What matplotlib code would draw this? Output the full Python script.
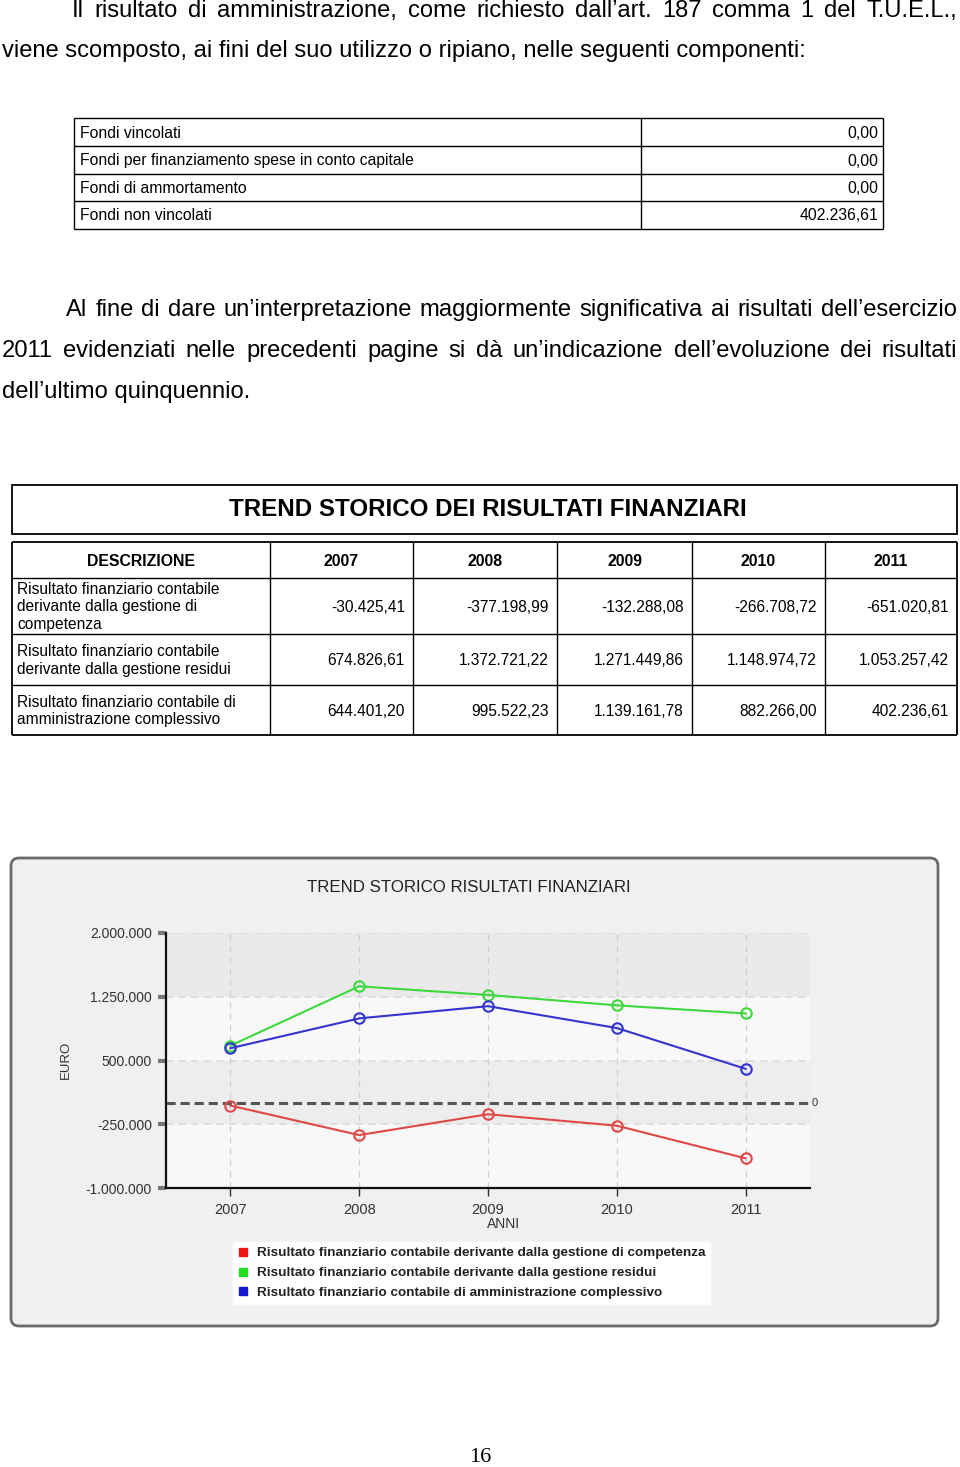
import matplotlib
matplotlib.use("Agg")
import matplotlib.pyplot as plt
from matplotlib.patches import FancyBboxPatch, Rectangle
from matplotlib.lines import Line2D
from matplotlib.ticker import FuncFormatter, FixedLocator

# ---------------- data ----------------
intro_line1 = "Il risultato di amministrazione, come richiesto dall’art. 187 comma 1 del T.U.E.L.,"
intro_line2 = "viene scomposto, ai fini del suo utilizzo o ripiano, nelle seguenti componenti:"
fondi_labels = ["Fondi vincolati", "Fondi per finanziamento spese in conto capitale",
                "Fondi di ammortamento", "Fondi non vincolati"]
fondi_values = [0.00, 0.00, 0.00, 402236.61]
para_lines = ["Al fine di dare un’interpretazione maggiormente significativa ai risultati dell’esercizio",
              "2011 evidenziati nelle precedenti pagine si dà un’indicazione dell’evoluzione dei risultati",
              "dell’ultimo quinquennio."]
table_title = "TREND STORICO DEI RISULTATI FINANZIARI"
header = ["DESCRIZIONE", "2007", "2008", "2009", "2010", "2011"]
years = [2007, 2008, 2009, 2010, 2011]
desc_rows = ["Risultato finanziario contabile\nderivante dalla gestione di\ncompetenza",
             "Risultato finanziario contabile\nderivante dalla gestione residui",
             "Risultato finanziario contabile di\namministrazione complessivo"]
competenza = [-30425.41, -377198.99, -132288.08, -266708.72, -651020.81]
residui = [674826.61, 1372721.22, 1271449.86, 1148974.72, 1053257.42]
complessivo = [644401.20, 995522.23, 1139161.78, 882266.00, 402236.61]
chart_title = "TREND STORICO RISULTATI FINANZIARI"
legend_labels = ["Risultato finanziario contabile derivante dalla gestione di competenza",
                 "Risultato finanziario contabile derivante dalla gestione residui",
                 "Risultato finanziario contabile di amministrazione complessivo"]
yticks = [-1000000, -250000, 500000, 1250000, 2000000]
page_number = "16"

# ---------------- helpers ----------------
W, H = 960, 1467
SANS = ["Liberation Sans", "DejaVu Sans"]
SERIF = ["Liberation Serif", "DejaVu Serif"]


def it_num(v, dec=2):
    s = f"{v:,.{dec}f}"
    return s.replace(",", "X").replace(".", ",").replace("X", ".")


fig = plt.figure(figsize=(W / 100, H / 100), dpi=100)
page = fig.add_axes([0, 0, 1, 1])
page.set_xlim(0, W)
page.set_ylim(H, 0)
page.axis("off")
renderer = fig.canvas.get_renderer()


def width_of(t):
    return t.get_window_extent(renderer).width


def fit_text(s, x0, x1, y, **kw):
    t = page.text(x0, y, s, fontsize=10, ha="left", va="center", **kw)
    fs = 10 * (x1 - x0) / width_of(t)
    t.set_fontsize(fs)
    return fs


def justify(s, x0, x1, y, fs, **kw):
    words = s.split(" ")
    ts = [page.text(0, y, w_, fontsize=fs, ha="left", va="center", **kw) for w_ in words]
    ws = [width_of(t) for t in ts]
    gap = (x1 - x0 - sum(ws)) / (len(words) - 1)
    x = x0
    for t, w_ in zip(ts, ws):
        t.set_x(x)
        x += w_ + gap


def hline(x0, x1, y, lw=1.0, color="black"):
    page.plot([x0, x1], [y, y], color=color, lw=lw, solid_capstyle="butt")


def vline(x, y0, y1, lw=1.0, color="black"):
    page.plot([x, x], [y0, y1], color=color, lw=lw, solid_capstyle="butt")


# ---------------- intro text ----------------
body_fs = fit_text(intro_line2, 2, 806, 51, family=SANS, color="black")
justify(intro_line1, 72, 957, 11, body_fs, family=SANS, color="black")

# ---------------- table 1 ----------------
t1_rows = [118, 146, 174, 201, 229]
t1_x0, t1_xm, t1_x1 = 74, 641, 883
for y in t1_rows:
    hline(t1_x0, t1_x1, y, lw=1.0)
vline(t1_x0, 118, 229)
vline(t1_xm, 118, 229)
vline(t1_x1, 118, 229)
for i, (lab, val) in enumerate(zip(fondi_labels, fondi_values)):
    yc = (t1_rows[i] + t1_rows[i + 1]) / 2 + 1
    page.text(80, yc, lab, fontsize=11.3, family=SANS, ha="left", va="center")
    page.text(878, yc, it_num(val), fontsize=11.3, family=SANS, ha="right", va="center")

# ---------------- paragraph ----------------
justify(para_lines[0], 66, 957, 310, body_fs, family=SANS)
justify(para_lines[1], 2, 957, 351, body_fs, family=SANS)
page.text(2, 392, para_lines[2], fontsize=body_fs, family=SANS, ha="left", va="center")

# ---------------- table 2 ----------------
page.add_patch(Rectangle((12, 485), 945, 49, fill=False, ec="black", lw=1.3))
fit_text(table_title, 229, 743, 510, family=SANS, fontweight="bold")

t2_rows = [542, 578, 634, 685, 735]
t2_cols = [12, 270, 413, 557, 692, 825, 957]
for i, y in enumerate(t2_rows):
    hline(12, 957, y, lw=1.3 if i in (0, len(t2_rows) - 1) else 1.0)
for i, x in enumerate(t2_cols):
    vline(x, 542, 735, lw=1.3 if i in (0, len(t2_cols) - 1) else 1.0)
for j, h in enumerate(header):
    xc = (t2_cols[j] + t2_cols[j + 1]) / 2
    page.text(xc, 561, h, fontsize=11.4, family=SANS, fontweight="bold", ha="center", va="center")
series_all = [competenza, residui, complessivo]
for i, (desc, vals) in enumerate(zip(desc_rows, series_all)):
    yc = (t2_rows[i + 1] + t2_rows[i + 2]) / 2 + 1
    page.text(17, yc, desc, fontsize=11.2, family=SANS, ha="left", va="center", linespacing=1.17)
    for j, v in enumerate(vals):
        page.text(t2_cols[j + 2] - 8, yc, it_num(v), fontsize=11.2, family=SANS,
                  ha="right", va="center")

# ---------------- chart panel ----------------
page.add_patch(FancyBboxPatch((11, 858), 927, 468,
                              boxstyle="round,pad=0,rounding_size=8",
                              fc="#f0f0f0", ec="#6a6a6a", lw=2.0))
fit_text(chart_title, 307, 632, 887, family=SANS, color="#222222")

ax_l, ax_r, ax_t, ax_b = 166, 810, 933, 1188
ax = fig.add_axes([ax_l / W, 1 - ax_b / H, (ax_r - ax_l) / W, (ax_b - ax_t) / H])
ax.set_facecolor("none")
ax.set_xlim(2006.5, 2011.5)
ax.set_ylim(-1000000, 2000000)

band_cols = ["#f8f8f8", "#ededed", "#f8f8f8", "#eaeaea"]
for (lo, hi), c in zip(zip(yticks[:-1], yticks[1:]), band_cols):
    ax.axhspan(lo, hi, color=c, lw=0, zorder=0)
for yv in yticks[1:]:
    ax.axhline(yv, color="#dcdcdc", lw=1.3, ls=(0, (4, 3)), zorder=1)
for xv in years:
    ax.axvline(xv, color="#cfcfcf", lw=0.9, ls=(0, (5, 4)), zorder=1)

ax.axhline(0, color="#555555", lw=2.2, ls=(0, (3, 1.6)), zorder=2)
ax.text(1.003, 0, "0", transform=ax.get_yaxis_transform(), fontsize=8,
        family=SANS, color="#333333", ha="left", va="center")

line_cols = ["#e04848", "#3cd83c", "#3434d0"]
for vals, c in zip(series_all, line_cols):
    ax.plot(years, vals, color=c, lw=1.5, marker="o", ms=7.5, mfc="none",
            mec=c, mew=1.5, zorder=4)

for s in ["top", "right"]:
    ax.spines[s].set_visible(False)
ax.spines["left"].set_color("#111111")
ax.spines["left"].set_linewidth(1.6)
ax.spines["bottom"].set_color("#111111")
ax.spines["bottom"].set_linewidth(1.6)

ax.yaxis.set_major_locator(FixedLocator(yticks))
ax.yaxis.set_major_formatter(FuncFormatter(lambda v, p: it_num(v, 0)))
ax.xaxis.set_major_locator(FixedLocator(years))
ax.xaxis.set_major_formatter(FuncFormatter(lambda v, p: f"{int(round(v))}"))
ax.tick_params(axis="y", length=6, width=3, color="#777777", pad=4,
               labelsize=10, labelcolor="#333333")
ax.tick_params(axis="x", length=6, width=1, color="#333333", pad=5,
               labelsize=10.5, labelcolor="#333333")
for lab in ax.get_xticklabels() + ax.get_yticklabels():
    lab.set_family(SANS)

page.text(66, 1060, "EURO", fontsize=9.5, family=SANS, rotation=90,
          ha="center", va="center", color="#333333")
page.text(504, 1224, "ANNI", fontsize=10, family=SANS, ha="center", va="center",
          color="#333333")

# legend
handles = [Line2D([], [], marker="s", ls="none", color=c, ms=5.5) for c in
           ["#ee1515", "#22dd22", "#1515cc"]]
leg = ax.legend(handles, legend_labels, loc="upper left",
                bbox_to_anchor=(232 / W, 1 - 1241 / H), bbox_transform=fig.transFigure,
                frameon=True, fancybox=True, facecolor="white", edgecolor="#f4f4f4",
                framealpha=1.0, handlelength=0.8, handletextpad=0.6,
                labelspacing=0.55, borderpad=0.45, borderaxespad=0,
                prop={"family": SANS, "weight": "bold", "size": 9.7})
for t in leg.get_texts():
    t.set_color("#222222")

# page number
page.text(480, 1457, page_number, fontsize=16, family=SERIF, ha="center", va="center")

fig.savefig("out.png", dpi=100)
